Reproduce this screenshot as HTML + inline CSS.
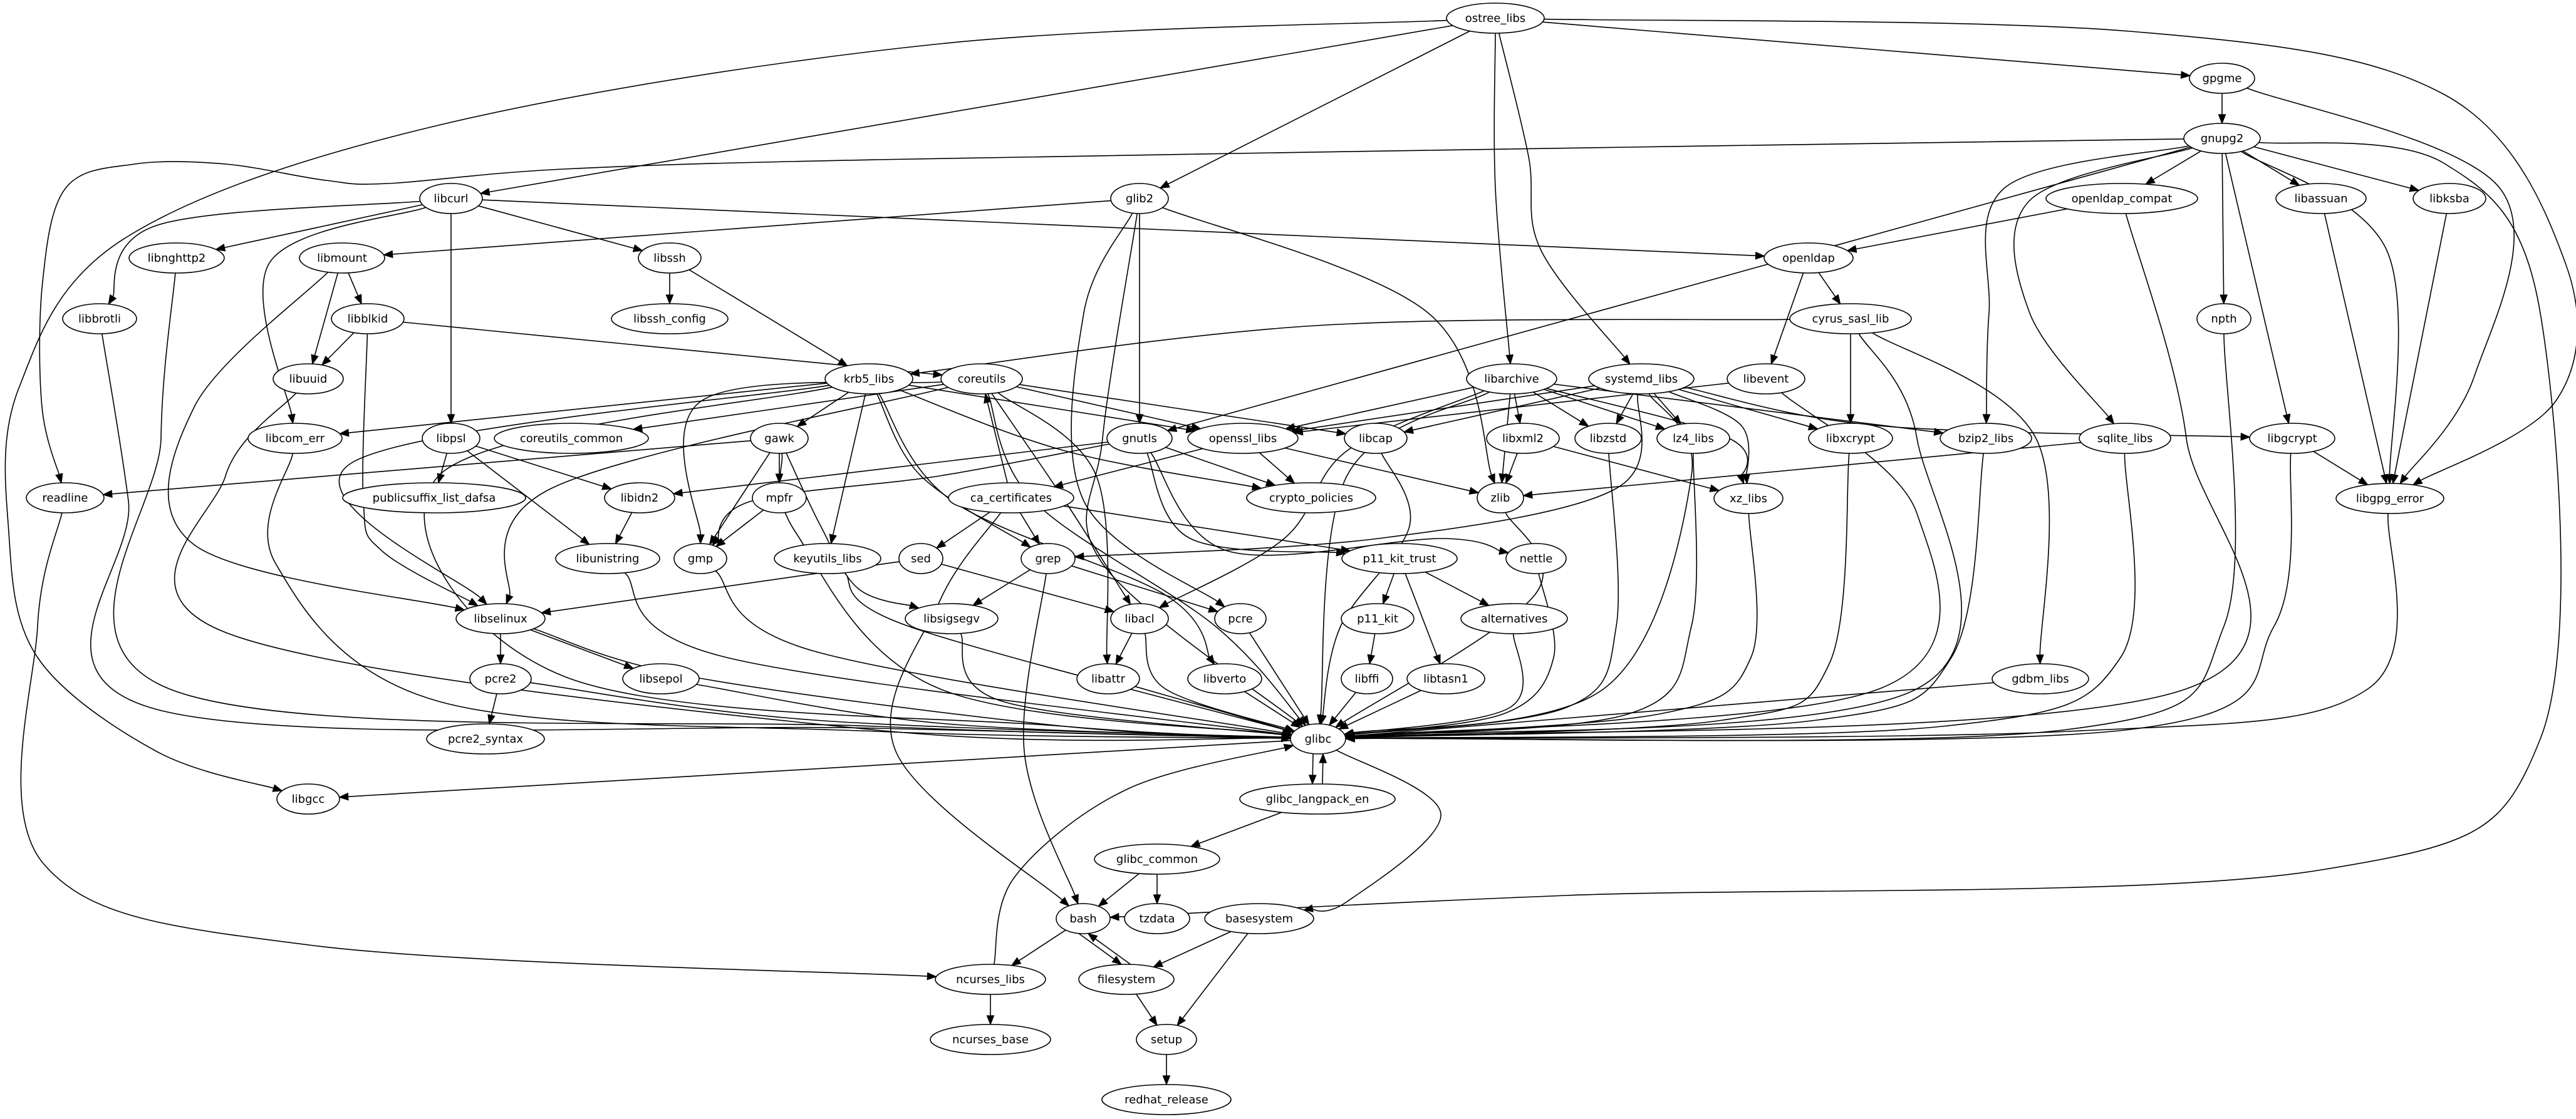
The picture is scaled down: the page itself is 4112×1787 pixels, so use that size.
<!DOCTYPE html>
<html><head><meta charset="utf-8"><style>
html,body{margin:0;padding:0;background:#fff;}
svg{display:block;}
text{font-family:"DejaVu Sans","Liberation Sans",sans-serif;font-size:18px;text-anchor:middle;fill:#000;}
ellipse{fill:#fff;stroke:#000;stroke-width:1.6;}
</style></head><body>
<svg id="g" xmlns="http://www.w3.org/2000/svg" width="4112" height="1787" viewBox="0 0 4112 1787">
<rect width="4112" height="1787" fill="#fff"/>
<g id="edges"></g>
<g id="nodes">
<ellipse cx="2387" cy="29" rx="78" ry="24"/><text x="2387" y="35">ostree_libs</text>
<ellipse cx="3547" cy="125" rx="52" ry="24"/><text x="3547" y="131">gpgme</text>
<ellipse cx="3547" cy="221" rx="61" ry="24"/><text x="3547" y="227">gnupg2</text>
<ellipse cx="720" cy="317" rx="50" ry="24"/><text x="720" y="323">libcurl</text>
<ellipse cx="1819" cy="317" rx="46" ry="24"/><text x="1819" y="323">glib2</text>
<ellipse cx="3387" cy="317" rx="121" ry="24"/><text x="3387" y="323">openldap_compat</text>
<ellipse cx="3705" cy="317" rx="72" ry="24"/><text x="3705" y="323">libassuan</text>
<ellipse cx="3910" cy="317" rx="58" ry="24"/><text x="3910" y="323">libksba</text>
<ellipse cx="282" cy="412" rx="76" ry="24"/><text x="282" y="418">libnghttp2</text>
<ellipse cx="546" cy="412" rx="68" ry="24"/><text x="546" y="418">libmount</text>
<ellipse cx="1069" cy="412" rx="50" ry="24"/><text x="1069" y="418">libssh</text>
<ellipse cx="2887" cy="412" rx="71" ry="24"/><text x="2887" y="418">openldap</text>
<ellipse cx="159" cy="509" rx="59" ry="24"/><text x="159" y="515">libbrotli</text>
<ellipse cx="587" cy="509" rx="58" ry="24"/><text x="587" y="515">libblkid</text>
<ellipse cx="1069" cy="509" rx="93" ry="24"/><text x="1069" y="515">libssh_config</text>
<ellipse cx="2954" cy="509" rx="97" ry="24"/><text x="2954" y="515">cyrus_sasl_lib</text>
<ellipse cx="3550" cy="509" rx="43" ry="24"/><text x="3550" y="515">npth</text>
<ellipse cx="492" cy="605" rx="56" ry="24"/><text x="492" y="611">libuuid</text>
<ellipse cx="1387" cy="605" rx="70" ry="24"/><text x="1387" y="611">krb5_libs</text>
<ellipse cx="1567" cy="605" rx="65" ry="24"/><text x="1567" y="611">coreutils</text>
<ellipse cx="2413" cy="605" rx="72" ry="24"/><text x="2413" y="611">libarchive</text>
<ellipse cx="2620" cy="605" rx="84" ry="24"/><text x="2620" y="611">systemd_libs</text>
<ellipse cx="2819" cy="605" rx="62" ry="24"/><text x="2819" y="611">libevent</text>
<ellipse cx="471" cy="700" rx="75" ry="24"/><text x="471" y="706">libcom_err</text>
<ellipse cx="720" cy="700" rx="46" ry="24"/><text x="720" y="706">libpsl</text>
<ellipse cx="912" cy="700" rx="123" ry="24"/><text x="912" y="706">coreutils_common</text>
<ellipse cx="1244" cy="700" rx="46" ry="24"/><text x="1244" y="706">gawk</text>
<ellipse cx="1819" cy="700" rx="52" ry="24"/><text x="1819" y="706">gnutls</text>
<ellipse cx="1984" cy="700" rx="88" ry="24"/><text x="1984" y="706">openssl_libs</text>
<ellipse cx="2196" cy="700" rx="50" ry="24"/><text x="2196" y="706">libcap</text>
<ellipse cx="2431" cy="700" rx="58" ry="24"/><text x="2431" y="706">libxml2</text>
<ellipse cx="2567" cy="700" rx="53" ry="24"/><text x="2567" y="706">libzstd</text>
<ellipse cx="2703" cy="700" rx="58" ry="24"/><text x="2703" y="706">lz4_libs</text>
<ellipse cx="2954" cy="700" rx="67" ry="24"/><text x="2954" y="706">libxcrypt</text>
<ellipse cx="3170" cy="700" rx="73" ry="24"/><text x="3170" y="706">bzip2_libs</text>
<ellipse cx="3392" cy="700" rx="73" ry="24"/><text x="3392" y="706">sqlite_libs</text>
<ellipse cx="3659" cy="700" rx="68" ry="24"/><text x="3659" y="706">libgcrypt</text>
<ellipse cx="104" cy="795" rx="62" ry="24"/><text x="104" y="801">readline</text>
<ellipse cx="693" cy="795" rx="146" ry="24"/><text x="693" y="801">publicsuffix_list_dafsa</text>
<ellipse cx="1021" cy="795" rx="56" ry="24"/><text x="1021" y="801">libidn2</text>
<ellipse cx="1244" cy="795" rx="43" ry="24"/><text x="1244" y="801">mpfr</text>
<ellipse cx="1614" cy="795" rx="100" ry="24"/><text x="1614" y="801">ca_certificates</text>
<ellipse cx="2093" cy="795" rx="103" ry="24"/><text x="2093" y="801">crypto_policies</text>
<ellipse cx="2395" cy="795" rx="37" ry="24"/><text x="2395" y="801">zlib</text>
<ellipse cx="2791" cy="796" rx="55" ry="24"/><text x="2791" y="802">xz_libs</text>
<ellipse cx="3815" cy="796" rx="86" ry="24"/><text x="3815" y="802">libgpg_error</text>
<ellipse cx="970" cy="892" rx="83" ry="24"/><text x="970" y="898">libunistring</text>
<ellipse cx="1118" cy="892" rx="42" ry="24"/><text x="1118" y="898">gmp</text>
<ellipse cx="1321" cy="892" rx="85" ry="24"/><text x="1321" y="898">keyutils_libs</text>
<ellipse cx="1470" cy="892" rx="35" ry="24"/><text x="1470" y="898">sed</text>
<ellipse cx="1673" cy="892" rx="43" ry="24"/><text x="1673" y="898">grep</text>
<ellipse cx="2234" cy="892" rx="92" ry="24"/><text x="2234" y="898">p11_kit_trust</text>
<ellipse cx="2452" cy="892" rx="48" ry="24"/><text x="2452" y="898">nettle</text>
<ellipse cx="799" cy="988" rx="71" ry="24"/><text x="799" y="994">libselinux</text>
<ellipse cx="1519" cy="988" rx="74" ry="24"/><text x="1519" y="994">libsigsegv</text>
<ellipse cx="1819" cy="988" rx="46" ry="24"/><text x="1819" y="994">libacl</text>
<ellipse cx="1980" cy="988" rx="41" ry="24"/><text x="1980" y="994">pcre</text>
<ellipse cx="2199" cy="988" rx="58" ry="24"/><text x="2199" y="994">p11_kit</text>
<ellipse cx="2417" cy="988" rx="85" ry="24"/><text x="2417" y="994">alternatives</text>
<ellipse cx="799" cy="1084" rx="49" ry="24"/><text x="799" y="1090">pcre2</text>
<ellipse cx="1055" cy="1084" rx="61" ry="24"/><text x="1055" y="1090">libsepol</text>
<ellipse cx="1769" cy="1084" rx="50" ry="24"/><text x="1769" y="1090">libattr</text>
<ellipse cx="1955" cy="1084" rx="59" ry="24"/><text x="1955" y="1090">libverto</text>
<ellipse cx="2182" cy="1084" rx="41" ry="24"/><text x="2182" y="1090">libffi</text>
<ellipse cx="2308" cy="1084" rx="62" ry="24"/><text x="2308" y="1090">libtasn1</text>
<ellipse cx="3257" cy="1084" rx="77" ry="24"/><text x="3257" y="1090">gdbm_libs</text>
<ellipse cx="775" cy="1180" rx="94" ry="24"/><text x="775" y="1186">pcre2_syntax</text>
<ellipse cx="2104" cy="1180" rx="44" ry="24"/><text x="2104" y="1186">glibc</text>
<ellipse cx="492" cy="1276" rx="50" ry="24"/><text x="492" y="1282">libgcc</text>
<ellipse cx="2103" cy="1276" rx="124" ry="24"/><text x="2103" y="1282">glibc_langpack_en</text>
<ellipse cx="1847" cy="1372" rx="100" ry="24"/><text x="1847" y="1378">glibc_common</text>
<ellipse cx="1729" cy="1467" rx="43" ry="24"/><text x="1729" y="1473">bash</text>
<ellipse cx="1847" cy="1467" rx="52" ry="24"/><text x="1847" y="1473">tzdata</text>
<ellipse cx="2010" cy="1467" rx="87" ry="24"/><text x="2010" y="1473">basesystem</text>
<ellipse cx="1581" cy="1564" rx="88" ry="24"/><text x="1581" y="1570">ncurses_libs</text>
<ellipse cx="1798" cy="1564" rx="76" ry="24"/><text x="1798" y="1570">filesystem</text>
<ellipse cx="1581" cy="1660" rx="96" ry="24"/><text x="1581" y="1666">ncurses_base</text>
<ellipse cx="1862" cy="1660" rx="48" ry="24"/><text x="1862" y="1666">setup</text>
<ellipse cx="1862" cy="1756" rx="103" ry="24"/><text x="1862" y="1762">redhat_release</text>
</g>
</svg>
<script>
(function(){
var N={};
var els=document.querySelectorAll('#nodes ellipse'),txs=document.querySelectorAll('#nodes text');
for(var i=0;i<els.length;i++){N[txs[i].textContent]=[+els[i].getAttribute('cx'),+els[i].getAttribute('cy'),+els[i].getAttribute('rx')];}
var E=[
['ostree_libs','libcurl'],['ostree_libs','glib2'],['ostree_libs','libarchive',[[2387,300]]],['ostree_libs','systemd_libs',[[2440,250],[2460,400]]],['ostree_libs','gpgme'],
['ostree_libs','libgcc',[[1500,70],[700,200],[200,380],[30,620],[14,850],[60,1050],[250,1200]]],
['ostree_libs','libgpg_error',[[3400,50],[3900,150],[4095,420],[4080,640]]],
['gnupg2','libgpg_error',[[3810,400]]],['gpgme','gnupg2'],['gpgme','libgpg_error',[[3990,300],[3950,600]]],
['gnupg2','readline',[[2600,235],[1400,255],[900,270],[620,293],[520,288],[360,262],[215,262],[105,300],[68,450],[67,650]]],
['gnupg2','gnutls'],['gnupg2','openldap_compat'],['gnupg2','libassuan'],['gnupg2','libksba'],['gnupg2','npth'],['gnupg2','libgcrypt'],
['gnupg2','bzip2_libs',[[3200,300],[3175,500]]],['gnupg2','sqlite_libs',[[3240,320],[3240,500]]],
['gnupg2','bash',[[3900,260],[4055,500],[4055,1180],[3700,1390],[2500,1430]]],
['libcurl','libnghttp2'],['libcurl','libssh'],['libcurl','libbrotli',[[250,360]]],['libcurl','libcom_err',[[430,420]]],['libcurl','libpsl'],['libcurl','openldap'],
['glib2','libmount'],['glib2','gnutls'],['glib2','zlib',[[2280,500]]],['glib2','pcre',[[1730,500],[1730,800]]],['glib2','glibc',[[1760,700],[1760,900]]],
['libmount','libblkid'],['libmount','libuuid'],['libmount','libselinux',[[310,650],[310,870]]],
['libblkid','libuuid'],['libblkid','coreutils'],['libblkid','libselinux',[[580,800],[610,880]]],
['libssh','libssh_config'],['libssh','krb5_libs'],
['libnghttp2','glibc',[[257,700],[270,1100],[1400,1160]]],
['libbrotli','glibc',[[205,800],[240,1130],[1400,1163]]],
['libuuid','glibc',[[360,760],[360,1010],[1400,1166]]],
['libcom_err','glibc',[[440,900],[700,1120],[1400,1168]]],
['libpsl','publicsuffix_list_dafsa'],['libpsl','libidn2'],['libpsl','libunistring'],
['krb5_libs','libcom_err'],['krb5_libs','gawk'],['krb5_libs','keyutils_libs'],['krb5_libs','grep',[[1470,760]]],['krb5_libs','libverto',[[1520,800],[1860,950]]],
['krb5_libs','openssl_libs'],['krb5_libs','libselinux',[[560,740]]],['krb5_libs','crypto_policies',[[1700,720]]],['krb5_libs','glibc',[[700,760],[900,1080],[1700,1160]]],
['coreutils','coreutils_common'],['coreutils','gmp',[[1120,640]]],['coreutils','openssl_libs'],['coreutils','libcap'],['coreutils','libacl',[[1700,800]]],['coreutils','libattr',[[1750,760]]],
['coreutils','libselinux',[[880,780]]],['coreutils','glibc',[[1650,800],[1940,1000]]],
['cyrus_sasl_lib','krb5_libs',[[2100,520]]],['cyrus_sasl_lib','libxcrypt'],['cyrus_sasl_lib','gdbm_libs',[[3250,700]]],['cyrus_sasl_lib','glibc',[[3060,700],[3060,1100]]],
['openldap','cyrus_sasl_lib'],['openldap','libevent'],['openldap_compat','openldap'],['openldap_compat','glibc',[[3490,700],[3490,1100]]],
['libevent','openssl_libs'],['libevent','glibc',[[3060,820],[3000,1100]]],
['libarchive','libxml2'],['libarchive','zlib'],['libarchive','libzstd'],['libarchive','lz4_libs'],['libarchive','bzip2_libs'],['libarchive','xz_libs',[[2760,700]]],
['libarchive','libacl',[[2150,720],[2050,860]]],['libarchive','openssl_libs'],['libarchive','glibc',[[2150,760]]],
['systemd_libs','libcap'],['systemd_libs','libzstd'],['systemd_libs','lz4_libs'],['systemd_libs','libxcrypt'],['systemd_libs','libgcrypt',[[3000,680]]],['systemd_libs','xz_libs',[[2780,680]]],
['systemd_libs','openssl_libs'],['systemd_libs','grep',[[2580,780],[2200,860]]],['systemd_libs','glibc',[[2700,760],[2560,1100]]],
['gawk','readline'],['gawk','gmp'],['gawk','mpfr'],['gawk','libsigsegv',[[1310,840],[1370,940]]],['gawk','glibc',[[1270,850],[1500,1100]]],
['mpfr','gmp'],['gmp','glibc',[[1300,1040]]],['libidn2','libunistring'],['libunistring','glibc',[[1160,1050]]],
['gnutls','libidn2'],['gnutls','crypto_policies'],['gnutls','nettle',[[1960,880],[2300,860]]],['gnutls','p11_kit_trust',[[1900,860]]],['gnutls','gmp',[[1500,760],[1200,800]]],
['openssl_libs','ca_certificates'],['openssl_libs','crypto_policies'],['openssl_libs','zlib'],
['libcap','glibc',[[2250,840],[2140,1000]]],['libxml2','zlib'],['libxml2','xz_libs'],
['libzstd','glibc',[[2580,1000],[2500,1130]]],['lz4_libs','glibc',[[2700,1000],[2600,1140]]],['libxcrypt','glibc',[[2920,1060],[2750,1150]]],
['bzip2_libs','glibc',[[3115,1050],[2900,1150]]],['sqlite_libs','zlib'],['sqlite_libs','glibc',[[3385,1050],[3100,1160]]],
['libgcrypt','libgpg_error'],['libgcrypt','glibc',[[3630,1000],[3400,1165]]],['npth','glibc',[[3550,1000],[3300,1165]]],
['libassuan','libgpg_error'],['libksba','libgpg_error'],['libgpg_error','glibc',[[3780,1100],[3300,1168]]],
['xz_libs','glibc',[[2795,1050],[2650,1140]]],['zlib','glibc',[[2450,950]]],['gdbm_libs','glibc'],
['ca_certificates','coreutils'],['ca_certificates','sed'],['ca_certificates','grep'],['ca_certificates','p11_kit_trust'],['ca_certificates','bash',[[1500,960],[1430,1200]]],
['sed','libacl'],['sed','libselinux'],['grep','libsigsegv'],['grep','pcre'],['grep','bash',[[1635,1200]]],
['keyutils_libs','glibc',[[1450,1000]]],['libsigsegv','glibc',[[1600,1120]]],
['p11_kit_trust','p11_kit'],['p11_kit_trust','libtasn1'],['p11_kit_trust','alternatives'],['p11_kit','libffi'],
['libffi','glibc'],['libtasn1','glibc'],['alternatives','glibc',[[2410,1130]]],['nettle','glibc',[[2480,1050],[2400,1140]]],
['libacl','libattr'],['libacl','glibc',[[1860,1100]]],['libattr','glibc'],['libverto','glibc'],['pcre','glibc'],
['libselinux','pcre2'],['libselinux','libsepol'],['libselinux','glibc',[[1100,1080],[1700,1160]]],
['pcre2','pcre2_syntax'],['pcre2','glibc',[[1300,1150]]],['libsepol','glibc',[[1500,1155]]],
['glibc','libgcc'],['glibc','basesystem',[[2300,1300],[2150,1440]]],
['glibc_common','bash'],['glibc_common','tzdata'],['glibc_langpack_en','glibc_common'],
['bash','ncurses_libs'],['basesystem','filesystem'],['basesystem','setup'],
['filesystem','setup'],['setup','redhat_release'],['ncurses_libs','ncurses_base'],
['ncurses_libs','glibc',[[1620,1400],[1800,1260]]],
['readline','ncurses_libs',[[60,1000],[70,1380],[500,1510]]]
];
var D=[['glibc','glibc_langpack_en',-8],['glibc_langpack_en','glibc',8],['bash','filesystem',-8],['filesystem','bash',8]];
var g=document.getElementById('edges'),ns='http://www.w3.org/2000/svg';
function clip(n,tx,ty){var dx=tx-n[0],dy=ty-n[1];var t=1/Math.sqrt((dx/n[2])*(dx/n[2])+(dy/24)*(dy/24));return [n[0]+dx*t,n[1]+dy*t];}
function draw(pts){
  var tip=pts[pts.length-1];
  var segs=[];
  var P=pts;
  for(var i=0;i<P.length-1;i++){
    var p0=P[i-1]||P[i],p1=P[i],p2=P[i+1],p3=P[i+2]||P[i+1];
    var c1=[p1[0]+(p2[0]-p0[0])/6,p1[1]+(p2[1]-p0[1])/6];
    var c2=[p2[0]-(p3[0]-p1[0])/6,p2[1]-(p3[1]-p1[1])/6];
    segs.push([c1,c2,p2]);
  }
  var last=segs[segs.length-1];var c2=last[1];
  var ux=tip[0]-c2[0],uy=tip[1]-c2[1];
  if(Math.abs(ux)+Math.abs(uy)<0.01){var pp=P[P.length-2];ux=tip[0]-pp[0];uy=tip[1]-pp[1];}
  var L=Math.sqrt(ux*ux+uy*uy);ux/=L;uy/=L;
  var base=[tip[0]-ux*14,tip[1]-uy*14];
  last[2]=base;
  if(segs.length==1){
    last[0]=[P[0][0]+(base[0]-P[0][0])/3,P[0][1]+(base[1]-P[0][1])/3];
    last[1]=[P[0][0]+(base[0]-P[0][0])*2/3,P[0][1]+(base[1]-P[0][1])*2/3];
  }
  var s='M'+P[0][0].toFixed(1)+','+P[0][1].toFixed(1);
  segs.forEach(function(q){s+='C'+q[0][0].toFixed(1)+','+q[0][1].toFixed(1)+' '+q[1][0].toFixed(1)+','+q[1][1].toFixed(1)+' '+q[2][0].toFixed(1)+','+q[2][1].toFixed(1);});
  var p=document.createElementNS(ns,'path');p.setAttribute('d',s);p.setAttribute('fill','none');p.setAttribute('stroke','#000');p.setAttribute('stroke-width','1.6');g.appendChild(p);
  var px=-uy,py=ux;
  var a=document.createElementNS(ns,'polygon');
  a.setAttribute('points',tip[0]+','+tip[1]+' '+(base[0]+px*5.5)+','+(base[1]+py*5.5)+' '+(base[0]-px*5.5)+','+(base[1]-py*5.5));
  a.setAttribute('fill','#000');a.setAttribute('stroke','#000');a.setAttribute('stroke-width','1.2');g.appendChild(a);
}
E.forEach(function(e){
  var s=N[e[0]],t=N[e[1]];if(!s||!t)return;
  var w=e[2]||[];
  var f=w.length?w[0]:[t[0],t[1]],l=w.length?w[w.length-1]:[s[0],s[1]];
  var a=clip(s,f[0],f[1]),b=clip(t,l[0],l[1]);
  draw([a].concat(w,[b]));
});
D.forEach(function(e){
  var s=N[e[0]],t=N[e[1]],o=e[2];
  var down=t[1]>s[1];
  var sy=s[1]+(down?23:-23),ty=t[1]+(down?-24:24);
  draw([[s[0]+o,sy],[t[0]+o,ty]]);
});
})();
</script>
</body></html>
